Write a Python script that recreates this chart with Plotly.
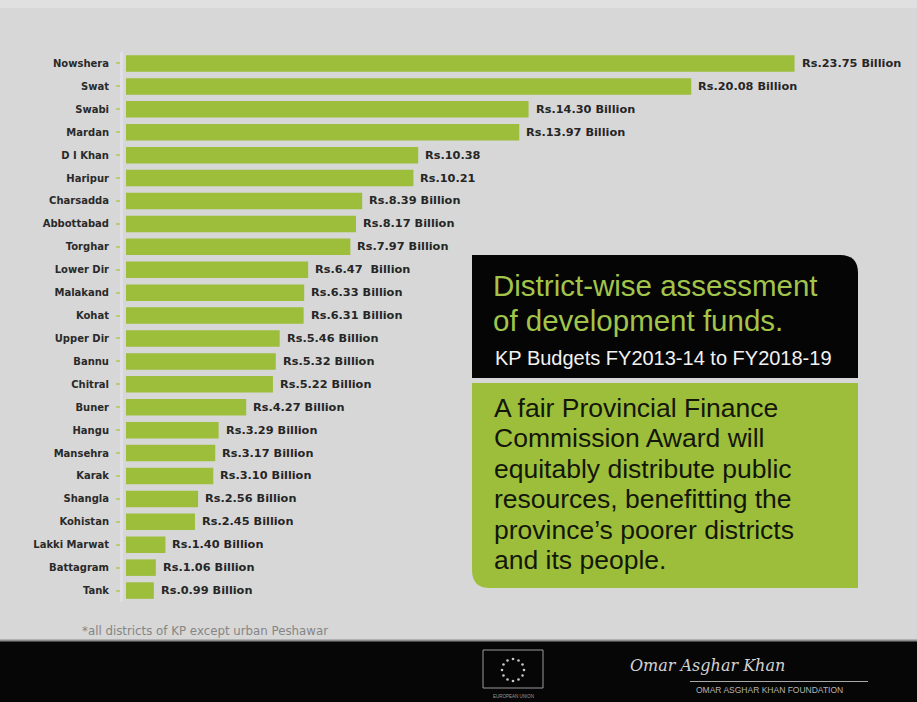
import math
import plotly.graph_objects as go

# District-wise development funds, KP budgets FY2013-14 to FY2018-19 (Rs. billion)
districts = [
    "Nowshera", "Swat", "Swabi", "Mardan", "D I Khan", "Haripur", "Charsadda",
    "Abbottabad", "Torghar", "Lower Dir", "Malakand", "Kohat", "Upper Dir",
    "Bannu", "Chitral", "Buner", "Hangu", "Mansehra", "Karak", "Shangla",
    "Kohistan", "Lakki Marwat", "Battagram", "Tank",
]
funds_bn = [
    23.75, 20.08, 14.30, 13.97, 10.38, 10.21, 8.39,
    8.17, 7.97, 6.47, 6.33, 6.31, 5.46,
    5.32, 5.22, 4.27, 3.29, 3.17, 3.10, 2.56,
    2.45, 1.40, 1.06, 0.99,
]
# unit text printed after each amount
units = [
    " Billion", " Billion", " Billion", " Billion", "", "", " Billion",
    " Billion", " Billion", "&nbsp; Billion", " Billion", " Billion", " Billion",
    " Billion", " Billion", " Billion", " Billion", " Billion", " Billion", " Billion",
    " Billion", " Billion", " Billion", " Billion",
]

title_lines = ["District-wise assessment", "of development funds."]
subtitle = "KP Budgets FY2013-14 to FY2018-19"
message_lines = [
    "A fair Provincial Finance",
    "Commission Award will",
    "equitably distribute public",
    "resources, benefitting the",
    "province\u2019s poorer districts",
    "and its people.",
]
footnote = "*all districts of KP except urban Peshawar"

W, H = 917, 702
ML, MR, MT, MB = 110, 17, 52, 100
PW, PH = W - ML - MR, H - MT - MB

BG = "#d7d7d7"
GREEN = "#9dbe3a"
TEXT = "#262626"
LABEL_FONT = "DejaVu Sans"


def fx(px):
    return (px - ML) / PW


def fy(py):
    return (H - MB - py) / PH


def rounded_box(x0, y0, x1, y1, r_tl=0, r_tr=0, r_br=0, r_bl=0):
    """SVG path (paper coords) for a box with optional rounded corners, given in pixels."""
    pts = []

    def P(x, y):
        return f"{fx(x):.5f},{fy(y):.5f}"

    pts.append(f"M {P(x0 + r_tl, y0)}")
    pts.append(f"L {P(x1 - r_tr, y0)}")
    if r_tr:
        pts.append(f"Q {P(x1, y0)} {P(x1, y0 + r_tr)}")
    pts.append(f"L {P(x1, y1 - r_br)}")
    if r_br:
        pts.append(f"Q {P(x1, y1)} {P(x1 - r_br, y1)}")
    pts.append(f"L {P(x0 + r_bl, y1)}")
    if r_bl:
        pts.append(f"Q {P(x0, y1)} {P(x0, y1 - r_bl)}")
    pts.append(f"L {P(x0, y0 + r_tl)}")
    if r_tl:
        pts.append(f"Q {P(x0, y0)} {P(x0 + r_tl, y0)}")
    pts.append("Z")
    return " ".join(pts)


fig = go.Figure(
    go.Bar(
        x=funds_bn,
        y=districts,
        orientation="h",
        marker=dict(color=GREEN, line=dict(width=0)),
        hoverinfo="skip",
    )
)

annotations = []
# amount labels at the end of each bar
for d, v, u in zip(districts, funds_bn, units):
    annotations.append(dict(
        x=v, y=d, xref="x", yref="y", text=f"Rs.{v:.2f}{u}",
        showarrow=False, xanchor="left", yanchor="middle", xshift=5,
        font=dict(family=LABEL_FONT, size=11.3, color=TEXT, weight="bold"),
    ))

shapes = []
# top light band
shapes.append(dict(type="rect", xref="paper", yref="paper", x0=fx(0), x1=fx(W),
                   y0=fy(0), y1=fy(8), fillcolor="#e0e0e0", line=dict(width=0), layer="below"))
# black title panel and green message panel
shapes.append(dict(type="path", xref="paper", yref="paper",
                   path=rounded_box(472, 255, 858, 378, r_tr=18),
                   fillcolor="#050505", line=dict(width=0), layer="above"))
shapes.append(dict(type="path", xref="paper", yref="paper",
                   path=rounded_box(472, 383, 858, 588, r_bl=18),
                   fillcolor=GREEN, line=dict(width=0), layer="above"))
# footer band
shapes.append(dict(type="rect", xref="paper", yref="paper", x0=fx(0), x1=fx(W),
                   y0=fy(641), y1=fy(H), fillcolor="#060606", line=dict(width=0), layer="above"))
shapes.append(dict(type="line", xref="paper", yref="paper", x0=fx(0), x1=fx(W),
                   y0=fy(640.5), y1=fy(640.5), line=dict(color="#8c8c8c", width=2), layer="above"))
# EU flag outline with ring of stars
shapes.append(dict(type="rect", xref="paper", yref="paper", x0=fx(483), x1=fx(543),
                   y0=fy(650), y1=fy(688), line=dict(color="#9a9a9a", width=1), layer="above"))
for k in range(12):
    a = 2 * math.pi * k / 12
    cx, cy = 513 + 11 * math.cos(a), 670 + 11 * math.sin(a)
    shapes.append(dict(type="circle", xref="paper", yref="paper",
                       x0=fx(cx - 1.3), x1=fx(cx + 1.3), y0=fy(cy - 1.3), y1=fy(cy + 1.3),
                       fillcolor="#c8c8c8", line=dict(width=0), layer="above"))
# rule under the signature
shapes.append(dict(type="line", xref="paper", yref="paper", x0=fx(690), x1=fx(868),
                   y0=fy(681.5), y1=fy(681.5), line=dict(color="#a8a8a8", width=1), layer="above"))

ARIAL = "Liberation Sans"
for i, line in enumerate(title_lines):
    annotations.append(dict(
        x=fx(491), y=fy(285 + 35 * i), xref="paper", yref="paper", text=line,
        showarrow=False, xanchor="left", yanchor="middle",
        font=dict(family=ARIAL, size=29.5, color="#a3c44a"),
    ))
annotations.append(dict(
    x=fx(493), y=fy(358), xref="paper", yref="paper", text=subtitle,
    showarrow=False, xanchor="left", yanchor="middle",
    font=dict(family=ARIAL, size=20, color="#f2f2f2"),
))
for i, line in enumerate(message_lines):
    annotations.append(dict(
        x=fx(492), y=fy(408 + 30.4 * i), xref="paper", yref="paper", text=line,
        showarrow=False, xanchor="left", yanchor="middle",
        font=dict(family=ARIAL, size=26.5, color="#131709"),
    ))
annotations.append(dict(
    x=fx(205), y=fy(631), xref="paper", yref="paper", text=footnote,
    showarrow=False, xanchor="center", yanchor="middle",
    font=dict(family="DejaVu Sans", size=11.8, color="#858585"),
))
annotations.append(dict(
    x=fx(513), y=fy(696), xref="paper", yref="paper", text="EUROPEAN UNION",
    showarrow=False, xanchor="center", yanchor="middle",
    font=dict(family=ARIAL, size=4.5, color="#9a9a9a"),
))
annotations.append(dict(
    x=fx(628), y=fy(665), xref="paper", yref="paper", text="Omar Asghar Khan",
    showarrow=False, xanchor="left", yanchor="middle",
    font=dict(family="DejaVu Serif", size=16, color="#d2d2d2", style="italic"),
))
annotations.append(dict(
    x=fx(694), y=fy(690), xref="paper", yref="paper", text="OMAR ASGHAR KHAN FOUNDATION",
    showarrow=False, xanchor="left", yanchor="middle",
    font=dict(family=ARIAL, size=8.5, color="#b4b4b4"),
))

fig.update_layout(
    width=W, height=H,
    margin=dict(l=ML, r=MR, t=MT, b=MB),
    paper_bgcolor=BG, plot_bgcolor=BG,
    showlegend=False,
    bargap=0.28,
    xaxis=dict(domain=[16 / PW, 1], range=[0, 774 / 28.15], visible=False, fixedrange=True),
    yaxis=dict(
        type="category", categoryorder="array", categoryarray=districts,
        autorange="reversed", anchor="free", position=11 / PW,
        showline=True, linecolor="#dfdfe5", linewidth=3,
        ticks="outside", ticklen=4, tickwidth=2, tickcolor="#b6cd74",
        ticklabelstandoff=5, showgrid=False, zeroline=False,
        tickfont=dict(family=LABEL_FONT, size=10, color="#2a2a2a", weight="bold"),
        fixedrange=True,
    ),
    shapes=shapes,
    annotations=annotations,
)

fig.write_html("out.html")
